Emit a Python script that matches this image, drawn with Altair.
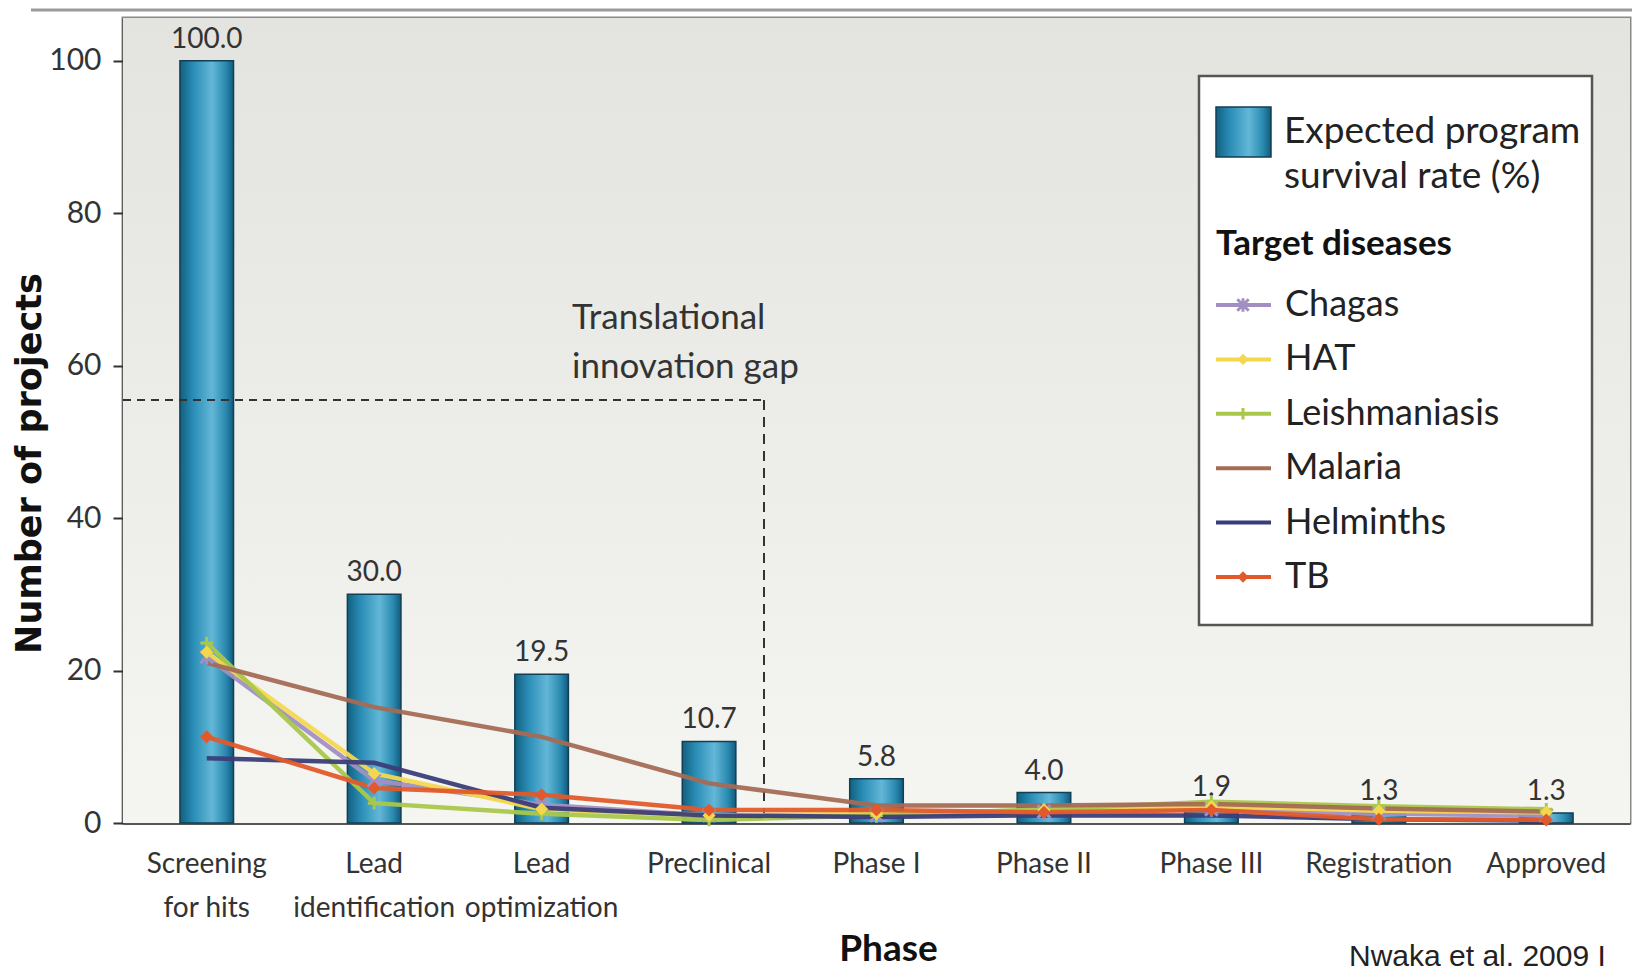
import altair as alt
import pandas as pd

# ---------------- data ----------------
phases = ["Screening\nfor hits", "Lead\nidentification", "Lead\noptimization", "Preclinical",
          "Phase I", "Phase II", "Phase III", "Registration", "Approved"]
survival = [100.0, 30.0, 19.5, 10.7, 5.8, 4.0, 1.9, 1.3, 1.3]

diseases = ["Chagas", "HAT", "Leishmaniasis", "Malaria", "Helminths", "TB"]
chagas = [21.8, 5.6, 2.4, 1.0, 1.0, 1.5, 1.8, 1.2, 1.0]
hat = [22.4, 6.5, 1.8, 1.0, 1.2, 1.7, 2.2, 1.6, 1.4]
leishmaniasis = [23.6, 2.6, 1.2, 0.4, 1.0, 1.8, 2.8, 2.2, 1.8]
malaria = [21.0, 15.2, 11.3, 5.2, 2.3, 2.3, 2.5, 1.9, 1.5]
helminths = [8.5, 7.9, 2.0, 1.0, 0.8, 1.0, 1.0, 0.5, 0.3]
tb = [11.3, 4.6, 3.7, 1.7, 1.7, 1.4, 1.7, 0.5, 0.4]
disease_colors = ["#a28fc2", "#f3d84e", "#a9c84b", "#a46b55", "#3b3d78", "#e25a2b"]

gap_level = 55.5
gap_label = ["Translational", "innovation gap"]
bar_legend_label = ["Expected program", "survival rate (%)"]
legend_title = "Target diseases"
citation = "Nwaka et al. 2009 I"
y_ticks = [0, 20, 40, 60, 80, 100]

# ---------------- layout ----------------
PW, PH = 1507, 805
NARROW = "Lato, Roboto, sans-serif"
SANS = "Lato, Roboto, sans-serif"

bars_df = pd.DataFrame({"phase": phases, "survival": survival})
series = [chagas, hat, leishmaniasis, malaria, helminths, tb]
rows = []
for d, vals in zip(diseases, series):
    for p, v in zip(phases, vals):
        rows.append({"disease": d, "phase": p, "projects": v, "order": diseases.index(d)})
lines_df = pd.DataFrame(rows)
one = pd.DataFrame({"k": [0]})

xscale = alt.Scale(domain=phases, paddingInner=0.68, paddingOuter=0.34)
yscale = alt.Scale(domain=[0, 105.6], nice=False, zero=True)
cscale = alt.Scale(domain=diseases, range=disease_colors)

bar_grad = alt.LinearGradient(
    gradient="linear", x1=0, x2=1, y1=0, y2=0,
    stops=[alt.GradientStop(color="#12607f", offset=0),
           alt.GradientStop(color="#2a8db6", offset=0.25),
           alt.GradientStop(color="#63b7d7", offset=0.6),
           alt.GradientStop(color="#2b8ab1", offset=0.85),
           alt.GradientStop(color="#125a7c", offset=1)])
bg_grad = alt.LinearGradient(
    gradient="linear", x1=0, x2=0, y1=0, y2=1,
    stops=[alt.GradientStop(color="#e3e3df", offset=0),
           alt.GradientStop(color="#f5f5f2", offset=1)])

background = alt.Chart(one).mark_rect(color=bg_grad).encode(
    x=alt.value(0), x2=alt.value(PW), y=alt.value(0), y2=alt.value(PH))

x_enc = alt.X("phase:N", scale=xscale, sort=phases, title="Phase",
              axis=alt.Axis(labelExpr="split(datum.label, '\\n')", labelAngle=0,
                            labelFont=NARROW, labelFontSize=28, labelLineHeight=44,
                            labelColor="#333", tickSize=0, labelPadding=27,
                            domainColor="#555", domainWidth=3,
                            titleFont="Lato, DejaVu Sans", titleFontWeight="bold",
                            titleFontSize=37, titleColor="#111", titleX=765, titleY=126,
                            titleBaseline="middle"))
y_enc = alt.Y("survival:Q", scale=yscale, title="Number of projects",
              axis=alt.Axis(values=y_ticks, grid=False, tickSize=10, tickWidth=2,
                            tickColor="#333", labelPadding=12, labelFont=NARROW,
                            labelFontSize=30, labelColor="#333", domainColor="#333",
                            domainWidth=2, titleFont="DejaVu Sans", titleFontWeight="bold",
                            titleFontSize=35, titleColor="#111", titleX=-94, titleY=445,
                            titleAngle=-90, titleBaseline="middle", titleAlign="center"))

bars = alt.Chart(bars_df).mark_bar(color=bar_grad, stroke="#123f55", strokeWidth=1.5).encode(
    x=x_enc, y=y_enc)
bar_labels = alt.Chart(bars_df).mark_text(
    baseline="bottom", dy=-7, font=NARROW, fontSize=28, color="#333").encode(
    x=alt.X("phase:N", scale=xscale, sort=phases),
    y=alt.Y("survival:Q", scale=yscale),
    text=alt.Text("survival:Q", format=".1f"))

gap_h = alt.Chart(one).mark_rule(color="#333", strokeWidth=2, strokeDash=[8, 6]).encode(
    x=alt.value(0), x2=alt.value(641), y=alt.datum(gap_level))
gap_v = alt.Chart(one).mark_rule(color="#333", strokeWidth=2, strokeDash=[10, 7]).encode(
    x=alt.value(641), y=alt.datum(gap_level), y2=alt.datum(0))
gap_text = alt.Chart(one).mark_text(
    align="left", baseline="middle", font=SANS, fontSize=35, lineHeight=49, color="#333").encode(
    x=alt.value(449), y=alt.value(300), text=alt.value(gap_label))

lines = alt.Chart(lines_df).mark_line(strokeWidth=4.5, opacity=0.95).encode(
    x=alt.X("phase:N", scale=xscale, sort=phases),
    y=alt.Y("projects:Q", scale=yscale),
    color=alt.Color("disease:N", scale=cscale, legend=None),
    detail="disease:N",
    order=alt.Order("order:Q"))

star = "M-1,-1L1,1M-1,1L1,-1M0,-1.2L0,1.2"
plus = "M-1,0L1,0M0,-1L0,1"
stroked_dis = ["Chagas", "Leishmaniasis"]
filled_dis = ["HAT", "TB"]
pts_stroked = alt.Chart(lines_df).transform_filter(
    alt.FieldOneOfPredicate(field="disease", oneOf=stroked_dis)).mark_point(
    filled=False, strokeWidth=3, opacity=1).encode(
    x=alt.X("phase:N", scale=xscale, sort=phases),
    y=alt.Y("projects:Q", scale=yscale),
    color=alt.Color("disease:N", scale=cscale, legend=None),
    shape=alt.Shape("disease:N", scale=alt.Scale(domain=stroked_dis, range=[star, plus]), legend=None),
    size=alt.value(160))
pts_filled = alt.Chart(lines_df).transform_filter(
    alt.FieldOneOfPredicate(field="disease", oneOf=filled_dis)).mark_point(
    filled=True, opacity=1).encode(
    x=alt.X("phase:N", scale=xscale, sort=phases),
    y=alt.Y("projects:Q", scale=yscale),
    color=alt.Color("disease:N", scale=cscale, legend=None),
    shape=alt.value("diamond"),
    size=alt.value(170))

# ---------------- legend (drawn) ----------------
leg_df = pd.DataFrame({"disease": diseases})
leg_base = alt.Chart(leg_df).transform_window(
    idx="row_number()").transform_calculate(ly="287 + 54.4 * (datum.idx - 1)")

leg_box = alt.Chart(one).mark_rect(fill="white", stroke="#555", strokeWidth=2.5).encode(
    x=alt.value(1076), x2=alt.value(1469), y=alt.value(58), y2=alt.value(607))
leg_swatch = alt.Chart(one).mark_rect(color=bar_grad, stroke="#123f55", strokeWidth=1.5).encode(
    x=alt.value(1093), x2=alt.value(1148), y=alt.value(89), y2=alt.value(139))
leg_bar_text = alt.Chart(one).mark_text(
    align="left", baseline="middle", font=SANS, fontSize=37, lineHeight=45, color="#222").encode(
    x=alt.value(1161), y=alt.value(114), text=alt.value(bar_legend_label))
leg_title = alt.Chart(one).mark_text(
    align="left", baseline="middle", font=SANS, fontSize=35, fontWeight="bold", color="#111").encode(
    x=alt.value(1093), y=alt.value(226), text=alt.value(legend_title))
leg_lines = leg_base.mark_rule(strokeWidth=4).encode(
    x=alt.value(1093), x2=alt.value(1148),
    y=alt.Y("ly:Q", scale=None, axis=None),
    color=alt.Color("disease:N", scale=cscale, legend=None))
leg_pts_s = leg_base.transform_filter(
    alt.FieldOneOfPredicate(field="disease", oneOf=stroked_dis)).mark_point(
    filled=False, strokeWidth=3, opacity=1).encode(
    x=alt.value(1120), y=alt.Y("ly:Q", scale=None, axis=None),
    color=alt.Color("disease:N", scale=cscale, legend=None),
    shape=alt.Shape("disease:N", scale=alt.Scale(domain=stroked_dis, range=[star, plus]), legend=None),
    size=alt.value(130))
leg_pts_f = leg_base.transform_filter(
    alt.FieldOneOfPredicate(field="disease", oneOf=filled_dis)).mark_point(
    filled=True, opacity=1).encode(
    x=alt.value(1120), y=alt.Y("ly:Q", scale=None, axis=None),
    color=alt.Color("disease:N", scale=cscale, legend=None),
    shape=alt.value("diamond"), size=alt.value(130))
leg_text = leg_base.mark_text(
    align="left", baseline="middle", font=SANS, fontSize=36, color="#222").encode(
    x=alt.value(1162), y=alt.Y("ly:Q", scale=None, axis=None), text="disease:N")

top_line = alt.Chart(one).mark_rule(color="#9a9a9a", strokeWidth=3).encode(
    x=alt.value(-92), x2=alt.value(PW + 2), y=alt.value(-8))
cite = alt.Chart(one).mark_text(
    align="left", baseline="top", font="Liberation Sans, Arial", fontSize=30, color="#222").encode(
    x=alt.value(1226), y=alt.value(924), text=alt.value(citation))

chart = alt.layer(
    background, bars, bar_labels, gap_h, gap_v, gap_text, lines, pts_stroked, pts_filled,
    leg_box, leg_swatch, leg_bar_text, leg_title, leg_lines, leg_pts_s, leg_pts_f, leg_text,
    top_line, cite
).properties(
    width=PW, height=PH,
    autosize=alt.AutoSizeParams(type="none"),
    padding={"left": 115, "top": 10, "right": 2, "bottom": 149},
    background="white"
).configure_view(stroke="#8a8a8a", strokeWidth=3)

chart.save("out.html", embed_options={"renderer": "svg", "actions": False})
